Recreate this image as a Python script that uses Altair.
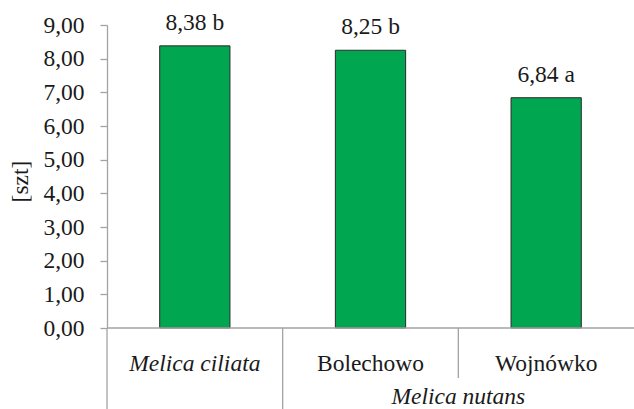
import altair as alt
import pandas as pd

# Mean counts per population, with significance letters
categories = ["Melica ciliata", "Bolechowo", "Wojnówko"]
means = [8.38, 8.25, 6.84]
letters = ["b", "b", "a"]
italic_flags = [True, False, False]
group_label = "Melica nutans"
group_members = ["Bolechowo", "Wojnówko"]

FONT = "Liberation Serif"
FS = 23.5
TEXT = "#1a1a1a"
GRAY = "#a3a3a3"
GREEN = "#00a650"

pos = list(range(len(categories)))
bars = pd.DataFrame({
    "cat": categories,
    "mean": means,
    "zero": [0.0] * len(categories),
    "pos": [p + 0.5 for p in pos],
    "x0": [p + 0.3 for p in pos],
    "x1": [p + 0.7 for p in pos],
    "label": [f"{m:.2f}".replace(".", ",") + " " + l for m, l in zip(means, letters)],
    "italic": italic_flags,
})

xscale = alt.Scale(domain=[0, len(categories)], nice=False, zero=False)
yscale = alt.Scale(domain=[0, 9], nice=False)

y_axis = alt.Axis(
    values=list(range(0, 10)),
    labelExpr="replace(format(datum.value, '.2f'), '.', ',')",
    labelOverlap=False,
    grid=False,
    domainColor=GRAY,
    domainWidth=1.3,
    tickColor=GRAY,
    tickWidth=1.3,
    tickSize=7,
    labelPadding=16,
    labelFont=FONT,
    labelFontSize=FS,
    labelColor=TEXT,
    title="[szt]",
    titleFont=FONT,
    titleFontSize=FS,
    titleFontWeight="normal",
    titleColor=TEXT,
    titleX=-87,
    titleY=156,
    titleAngle=270,
    titleAlign="center",
    titleBaseline="middle",
)


def xq(field):
    return alt.X(field, scale=xscale, axis=None)


def yq(field):
    return alt.Y(field, scale=yscale, axis=y_axis)


base = alt.Chart(bars)

bar_layer = base.mark_bar(color=GREEN, stroke="#2b2b2b", strokeWidth=1).encode(
    x=xq("x0:Q"), x2="x1:Q", y=yq("mean:Q"), y2="zero:Q"
)

value_labels = base.mark_text(
    font=FONT, fontSize=FS, color=TEXT, baseline="alphabetic", dy=-16
).encode(x=xq("pos:Q"), y=yq("mean:Q"), text="label:N")

# Baseline of the category axis
baseline = alt.Chart(pd.DataFrame({"a": [0], "b": [len(categories)], "v": [0]})).mark_rule(
    color=GRAY, strokeWidth=1.3
).encode(x=xq("a:Q"), x2="b:Q", y=yq("v:Q"))

# Category separators below the axis: outer ones reach the group row, the inner one stops above it
n_members = len(group_members)
first_member = categories.index(group_members[0])
seps = pd.DataFrame({"x": [0, first_member]})
inner = pd.DataFrame({"x": [first_member + k for k in range(1, n_members)]})

outer_rules = alt.Chart(seps).mark_rule(color=GRAY, strokeWidth=1.3).encode(
    x=xq("x:Q"), y=alt.value(303), y2=alt.value(384)
)
inner_rules = alt.Chart(inner).mark_rule(color=GRAY, strokeWidth=1.3).encode(
    x=xq("x:Q"), y=alt.value(303), y2=alt.value(353)
)

cat_italic = base.transform_filter("datum.italic").mark_text(
    font=FONT, fontSize=FS, color=TEXT, baseline="alphabetic", fontStyle="italic"
).encode(x=xq("pos:Q"), y=alt.value(346), text="cat:N")

cat_plain = base.transform_filter("!datum.italic").mark_text(
    font=FONT, fontSize=FS, color=TEXT, baseline="alphabetic"
).encode(x=xq("pos:Q"), y=alt.value(346), text="cat:N")

group_df = pd.DataFrame({
    "label": [group_label],
    "pos": [first_member + n_members / 2],
})
group_text = alt.Chart(group_df).mark_text(
    font=FONT, fontSize=FS, color=TEXT, fontStyle="italic", baseline="bottom"
).encode(x=xq("pos:Q"), y=alt.value(384), text="label:N")

chart = (
    alt.layer(bar_layer, baseline, outer_rules, inner_rules, value_labels,
              cat_italic, cat_plain, group_text)
    .properties(
        width=527,
        height=303,
        autosize=alt.AutoSizeParams(type="none"),
        padding={"left": 107, "top": 25, "right": 0, "bottom": 81},
    )
    .configure_view(stroke=None)
)

chart.save("out.html", embed_options={"renderer": "svg", "actions": False})
